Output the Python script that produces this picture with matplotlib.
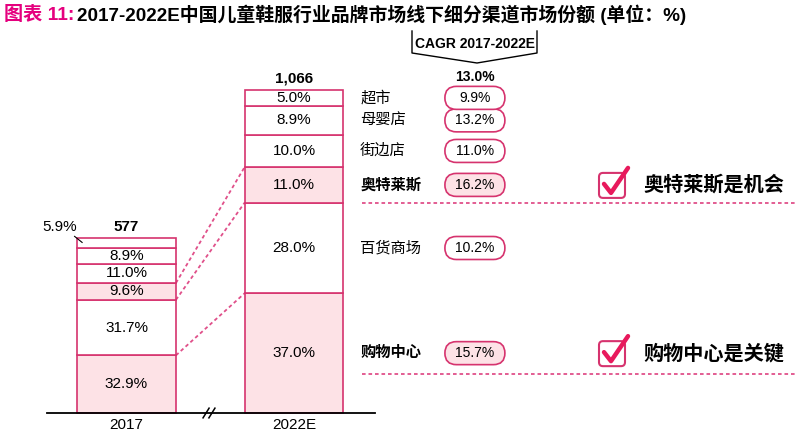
import numpy as np
import matplotlib.pyplot as plt
import matplotlib.transforms as mtransforms
from matplotlib.patches import FancyBboxPatch

plt.rcParams['font.family'] = ['Liberation Sans', 'Noto Sans CJK SC', 'DejaVu Sans']

# data
years = ['2017', '2022E']
totals = [577, 1066]
total_labels = ['577', '1,066']
channels = ['购物中心', '百货商场', '奥特莱斯', '街边店', '母婴店', '超市']
share_2017 = [32.9, 31.7, 9.6, 11.0, 8.9, 5.9]
share_2022 = [37.0, 28.0, 11.0, 10.0, 8.9, 5.0]
cagr = ['15.7%', '10.2%', '16.2%', '11.0%', '13.2%', '9.9%']
cagr_total = '13.0%'
highlight = [True, False, True, False, False, False]
notes = ['购物中心是关键', None, '奥特莱斯是机会', None, None, None]

EDGE = '#d6336e'
PINK = '#fde2e6'
DASH = '#e0508a'
W, H = 797, 438

fig = plt.figure(figsize=(W / 100, H / 100), dpi=100)
ax = fig.add_axes([0, 0, 1, 1])
ax.set_xlim(-126.5 / 167.5, (W - 126.5) / 167.5)
ax.set_ylim(-(H - 413) / 0.3035, 413 / 0.3035)
ax.axis('off')

# pixel transform (x from left, y from top)
px = mtransforms.Affine2D().scale(1 / W, -1 / H).translate(0, 1) + fig.transFigure


def to_px(x, y):
    dx, dy = ax.transData.transform((x, y))
    return dx, H - dy


bw = 0.59
cums = []
for i, shares in enumerate([share_2017, share_2022]):
    vals = np.array(shares) * totals[i] / 100
    bottoms = np.concatenate([[0], np.cumsum(vals)[:-1]])
    cums.append(np.cumsum(vals))
    colors = [PINK if h else 'white' for h in highlight]
    ax.bar(i, vals, bottom=bottoms, width=bw, color=colors, edgecolor=EDGE, linewidth=1.2, zorder=2)
    for k, (v, b) in enumerate(zip(vals, bottoms)):
        if i == 0 and k == len(vals) - 1:
            # small top slice gets its label outside
            ax.text(i - 0.40, totals[i] + 35, f'{shares[k]:.1f}%', ha='center', va='center', fontsize=11)
            ax.plot([i - 0.31, i - 0.265], [totals[i] + 5, totals[i] - 15], color='black', lw=0.8)
        else:
            ax.text(i, b + v / 2, f'{shares[k]:.1f}%', ha='center', va='center', fontsize=11, zorder=3)
    ax.text(i, totals[i] + 35, total_labels[i], ha='center', va='center', fontsize=11, fontweight='bold')
    ax.text(i, -40, years[i], ha='center', va='center', fontsize=11)

# connectors between bars
for k in range(3):
    ax.plot([bw / 2, 1 - bw / 2], [cums[0][k], cums[1][k]], color=DASH, lw=1.3,
            linestyle=(0, (2, 1.6)), zorder=1)

# baseline with break mark
ax.plot([-0.475, 1.484], [0, 0], color='black', lw=1.3, zorder=3)
for xb in [0.475, 0.51]:
    ax.plot([xb - 0.018, xb + 0.018], [-16, 16], color='black', lw=1.1, zorder=3)

# channel labels, CAGR pills, notes
vals22 = np.array(share_2022) * totals[1] / 100
centers = cums[1] - vals22 / 2
xlab = 1 + bw / 2 + 0.1
xc = 2.08
for k, ch in enumerate(channels):
    y = centers[k]
    ax.text(xlab, y, ch, ha='left', va='center', fontsize=11,
            fontweight='bold' if highlight[k] else 'normal')
    cx, cy = to_px(xc, y)
    ax.add_patch(FancyBboxPatch((cx - 30, cy - 11.5), 60, 23, boxstyle='round,pad=0,rounding_size=11.5',
                                transform=px, facecolor=PINK if highlight[k] else 'white',
                                edgecolor=EDGE, lw=1.2, clip_on=False))
    ax.text(xc, y, cagr[k], ha='center', va='center', fontsize=10)
    if notes[k]:
        _, ly = to_px(0, y)
        ax.add_patch(FancyBboxPatch((599, ly - 12), 26, 25, boxstyle='round,pad=0,rounding_size=4',
                                    transform=px, facecolor='none', edgecolor=EDGE, lw=1.5, clip_on=False))
        ax.plot([604, 611, 628], [ly - 1, ly + 8, ly - 17], transform=px, color='#e8195c', lw=3.2,
                solid_capstyle='round', solid_joinstyle='round', clip_on=False)
        ax.text(643, ly, notes[k], transform=px, ha='left', va='center', fontsize=14.5, fontweight='bold')

# dashed separators
ax.plot([1.405, 4.1], [cums[1][1], cums[1][1]], color=DASH, lw=1.3, linestyle=(0, (2, 1.6)))
ax.plot([1.405, 4.1], [centers[0] - 69, centers[0] - 69], color=DASH, lw=1.3, linestyle=(0, (2, 1.6)))

# CAGR header
ax.text(xc, totals[1] + 40, cagr_total, ha='center', va='center', fontsize=10, fontweight='bold')
ax.plot([412, 412, 477, 537, 537], [31, 53, 63, 53, 31], transform=px, color='black', lw=1.0, clip_on=False)
ax.text(475, 44, 'CAGR 2017-2022E', transform=px, ha='center', va='center', fontsize=10, fontweight='bold')

# title
fig.text(4 / W, 1 - 15 / H, '图表 11:', color='#e5007e', fontsize=13.8, fontweight='bold', va='center')
fig.text(77 / W, 1 - 15 / H, '2017-2022E中国儿童鞋服行业品牌市场线下细分渠道市场份额 (单位：%)',
         color='black', fontsize=13.6, fontweight='bold', va='center')

fig.savefig('out.png', dpi=100)
